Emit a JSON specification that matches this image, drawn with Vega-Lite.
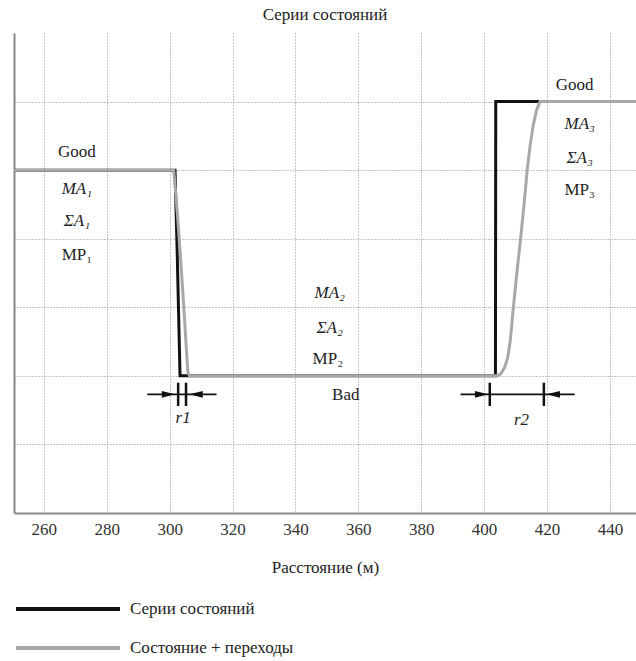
{
  "$schema": "https://vega.github.io/schema/vega-lite/v6.json",
  "width": 622,
  "height": 480,
  "autosize": {"type": "none"},
  "padding": {"left": 14, "top": 33, "right": 0, "bottom": 148},
  "background": "white",
  "title": {"text": "Серии состояний", "font": "'Liberation Serif', 'DejaVu Serif', serif", "fontSize": 17, "fontWeight": "normal", "color": "#222222", "offset": 9, "anchor": "middle"},
  "config": {"view": {"stroke": null}, "font": "'Liberation Serif', 'DejaVu Serif', serif"},
  "datasets": {
    "states": [
      {"series": "Серии состояний", "x": 250.5, "y": 5},
      {"series": "Серии состояний", "x": 301.7, "y": 5},
      {"series": "Серии состояний", "x": 302.4, "y": 3.8},
      {"series": "Серии состояний", "x": 303.3, "y": 2},
      {"series": "Серии состояний", "x": 403.6, "y": 2},
      {"series": "Серии состояний", "x": 403.7, "y": 6},
      {"series": "Серии состояний", "x": 448.3, "y": 6},
      {"series": "Состояние + переходы", "x": 250.5, "y": 5},
      {"series": "Состояние + переходы", "x": 301.3, "y": 5},
      {"series": "Состояние + переходы", "x": 302.4, "y": 4.4},
      {"series": "Состояние + переходы", "x": 303.5, "y": 3.7},
      {"series": "Состояние + переходы", "x": 304.5, "y": 3.0},
      {"series": "Состояние + переходы", "x": 305.3, "y": 2.4},
      {"series": "Состояние + переходы", "x": 305.8, "y": 2.05},
      {"series": "Состояние + переходы", "x": 306.3, "y": 2},
      {"series": "Состояние + переходы", "x": 404.2, "y": 2},
      {"series": "Состояние + переходы", "x": 405.3, "y": 2.03},
      {"series": "Состояние + переходы", "x": 406.5, "y": 2.12},
      {"series": "Состояние + переходы", "x": 407.5, "y": 2.27},
      {"series": "Состояние + переходы", "x": 408.3, "y": 2.5},
      {"series": "Состояние + переходы", "x": 409.2, "y": 2.95},
      {"series": "Состояние + переходы", "x": 410.4, "y": 3.5},
      {"series": "Состояние + переходы", "x": 411.6, "y": 4.0},
      {"series": "Состояние + переходы", "x": 412.7, "y": 4.5},
      {"series": "Состояние + переходы", "x": 413.7, "y": 5.0},
      {"series": "Состояние + переходы", "x": 414.6, "y": 5.35},
      {"series": "Состояние + переходы", "x": 415.6, "y": 5.65},
      {"series": "Состояние + переходы", "x": 416.7, "y": 5.88},
      {"series": "Состояние + переходы", "x": 417.8, "y": 6},
      {"series": "Состояние + переходы", "x": 448.3, "y": 6}
    ],
    "dims": [
      {"x": 292.9, "x2": 314.9, "y": 1.73},
      {"x": 392.5, "x2": 428.8, "y": 1.73}
    ],
    "ticks": [
      {"x": 302.7, "y": 1.56, "y2": 1.9},
      {"x": 305.2, "y": 1.56, "y2": 1.9},
      {"x": 401.8, "y": 1.56, "y2": 1.9},
      {"x": 419.0, "y": 1.56, "y2": 1.9}
    ],
    "arrows": [
      {"x": 299.6, "y": 1.73, "dir": "right"},
      {"x": 308.4, "y": 1.73, "dir": "left"},
      {"x": 399.2, "y": 1.73, "dir": "right"},
      {"x": 422.0, "y": 1.73, "dir": "left"}
    ],
    "plainLabels": [
      {"x": 270.5, "y": 5.26, "text": "Good"},
      {"x": 270.5, "y": 3.76, "text": "MP₁"},
      {"x": 350.3, "y": 2.25, "text": "MP₂"},
      {"x": 356.0, "y": 1.72, "text": "Bad"},
      {"x": 428.8, "y": 6.24, "text": "Good"},
      {"x": 430.4, "y": 4.71, "text": "MP₃"}
    ],
    "italicLabels": [
      {"x": 270.5, "y": 4.73, "text": "MA₁"},
      {"x": 270.5, "y": 4.26, "text": "ΣA₁"},
      {"x": 350.9, "y": 3.21, "text": "MA₂"},
      {"x": 350.9, "y": 2.70, "text": "ΣA₂"},
      {"x": 430.4, "y": 5.67, "text": "MA₃"},
      {"x": 430.4, "y": 5.18, "text": "ΣA₃"},
      {"x": 304.3, "y": 1.38, "text": "r1"},
      {"x": 411.9, "y": 1.36, "text": "r2"}
    ]
  },
  "layer": [
    {
      "data": {"name": "states"},
      "transform": [{"filter": "datum.series === 'Серии состояний'"}],
      "mark": {"type": "line", "strokeWidth": 3, "clip": true},
      "encoding": {
        "x": {"field": "x", "type": "quantitative",
          "scale": {"domain": [250.5, 448.3], "nice": false, "zero": false},
          "axis": {"title": "Расстояние (м)", "values": [260, 280, 300, 320, 340, 360, 380, 400, 420, 440],
            "grid": true, "gridColor": "#8a8a8a", "gridDash": [1, 2], "gridWidth": 1,
            "domain": true, "domainColor": "#888888", "domainWidth": 2,
            "ticks": false, "labelPadding": 8, "labelFont": "'Liberation Serif', 'DejaVu Serif', serif", "labelFontSize": 17, "labelColor": "#333333",
            "titleFont": "'Liberation Serif', 'DejaVu Serif', serif", "titleFontSize": 17, "titleFontWeight": "normal", "titleColor": "#222222", "titlePadding": 22}},
        "y": {"field": "y", "type": "quantitative",
          "scale": {"domain": [0, 7], "nice": false, "zero": false},
          "axis": {"title": null, "values": [1, 2, 3, 4, 5, 6], "labels": false, "ticks": false,
            "grid": true, "gridColor": "#8a8a8a", "gridDash": [1, 2], "gridWidth": 1,
            "domain": true, "domainColor": "#888888", "domainWidth": 2}},
        "color": {"field": "series", "type": "nominal",
          "scale": {"domain": ["Серии состояний", "Состояние + переходы"], "range": ["#111111", "#a8a8a8"]},
          "legend": {"orient": "none", "legendX": 0, "legendY": 566, "title": null, "direction": "vertical",
            "symbolType": "stroke", "symbolSize": 10816, "symbolStrokeWidth": 4, "clipHeight": 20, "rowPadding": 19,
            "labelFont": "'Liberation Serif', 'DejaVu Serif', serif", "labelFontSize": 17, "labelColor": "#222222", "labelLimit": 400, "labelOffset": 8, "padding": 0}}
      }
    },
    {
      "data": {"name": "states"},
      "transform": [{"filter": "datum.series === 'Состояние + переходы'"}],
      "mark": {"type": "line", "strokeWidth": 3, "clip": true},
      "encoding": {
        "x": {"field": "x", "type": "quantitative"},
        "y": {"field": "y", "type": "quantitative"},
        "color": {"field": "series", "type": "nominal"}
      }
    },
    {
      "mark": {"type": "rule", "color": "#888888", "strokeWidth": 2},
      "encoding": {"y": {"datum": 7, "type": "quantitative"}}
    },
    {
      "data": {"name": "dims"},
      "mark": {"type": "rule", "color": "#111111", "strokeWidth": 1.8},
      "encoding": {
        "x": {"field": "x", "type": "quantitative"},
        "x2": {"field": "x2"},
        "y": {"field": "y", "type": "quantitative"}
      }
    },
    {
      "data": {"name": "ticks"},
      "mark": {"type": "rule", "color": "#111111", "strokeWidth": 2.5},
      "encoding": {
        "x": {"field": "x", "type": "quantitative"},
        "y": {"field": "y", "type": "quantitative"},
        "y2": {"field": "y2"}
      }
    },
    {
      "data": {"name": "arrows"},
      "mark": {"type": "point", "filled": true, "color": "#111111", "size": 177, "opacity": 1},
      "encoding": {
        "x": {"field": "x", "type": "quantitative"},
        "y": {"field": "y", "type": "quantitative"},
        "shape": {"field": "dir", "type": "nominal",
          "scale": {"domain": ["right", "left"], "range": ["M-1,-0.5L1,0L-1,0.5Z", "M1,-0.5L-1,0L1,0.5Z"]},
          "legend": null}
      }
    },
    {
      "data": {"name": "plainLabels"},
      "mark": {"type": "text", "font": "'Liberation Serif', 'DejaVu Serif', serif", "fontSize": 17, "color": "#222222", "align": "center", "baseline": "middle"},
      "encoding": {
        "x": {"field": "x", "type": "quantitative"},
        "y": {"field": "y", "type": "quantitative"},
        "text": {"field": "text"}
      }
    },
    {
      "data": {"name": "italicLabels"},
      "mark": {"type": "text", "font": "'Liberation Serif', 'DejaVu Serif', serif", "fontSize": 17, "fontStyle": "italic", "color": "#222222", "align": "center", "baseline": "middle"},
      "encoding": {
        "x": {"field": "x", "type": "quantitative"},
        "y": {"field": "y", "type": "quantitative"},
        "text": {"field": "text"}
      }
    }
  ]
}
